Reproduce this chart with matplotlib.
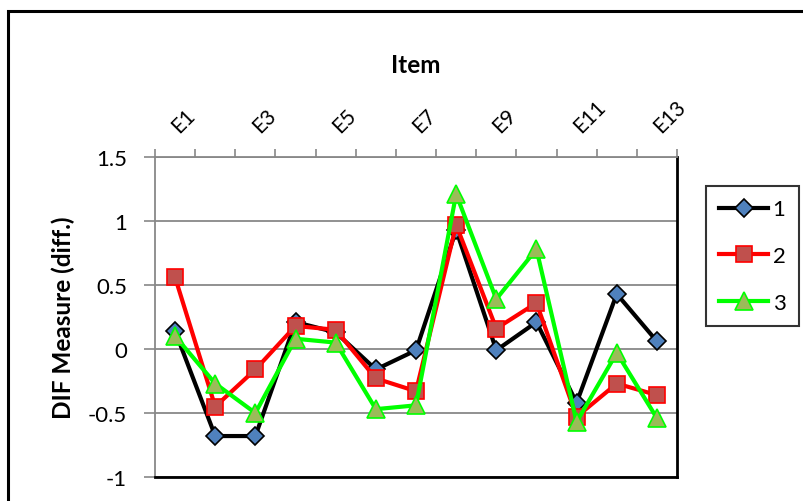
import matplotlib
matplotlib.use("Agg")
import matplotlib.pyplot as plt
from matplotlib.patches import Rectangle
from matplotlib.ticker import FuncFormatter
from matplotlib.transforms import ScaledTranslation
import numpy as np

plt.rcParams['font.family'] = ['Lato', 'DejaVu Sans']

items = ['E%d' % i for i in range(1, 14)]
group1 = [0.14, -0.68, -0.68, 0.21, 0.13, -0.16, -0.01, 0.93, -0.01, 0.21, -0.42, 0.43, 0.06]
group2 = [0.56, -0.45, -0.16, 0.18, 0.15, -0.23, -0.33, 0.97, 0.16, 0.36, -0.53, -0.27, -0.36]
group3 = [0.10, -0.27, -0.50, 0.08, 0.05, -0.47, -0.44, 1.21, 0.39, 0.78, -0.57, -0.03, -0.54]
series_names = ['1', '2', '3']
y_ticks = [-1, -0.5, 0, 0.5, 1, 1.5]

fig = plt.figure(figsize=(8.04, 5.02), dpi=100)
ax = fig.add_axes([155 / 804, 1 - 478 / 502, 522 / 804, 320 / 502])

x = np.arange(len(items))
ax.plot(x, group1, color='black', lw=3, marker='D', ms=9,
        mfc='#4F81BD', mec='black', mew=1.2, label=series_names[0], zorder=3)
ax.plot(x, group2, color='red', lw=3, marker='s', ms=12,
        mfc='#C0504D', mec='red', mew=1.2, label=series_names[1], zorder=4)
ax.plot(x, group3, color='#00FF00', lw=3, marker='^', ms=13,
        mfc='#9BBB59', mec='#00FF00', mew=1.2, label=series_names[2], zorder=5)

ax.set_xlim(-0.5, len(items) - 0.5)
ax.set_ylim(-1, 1.5)
ax.set_yticks(y_ticks)
ax.yaxis.set_major_formatter(FuncFormatter(lambda v, p: '%g' % v))
ax.grid(axis='y', color='#888888', lw=1.3)
ax.set_axisbelow(True)

# x axis on top: labels on every other item, ticks between items
ax.xaxis.tick_top()
ax.set_xticks(x[::2])
ax.set_xticklabels(items[::2], rotation=45, ha='left', va='center',
                   rotation_mode='anchor')
shift = ScaledTranslation(4 / 100, 0, fig.dpi_scale_trans)
for lab in ax.get_xticklabels():
    lab.set_transform(lab.get_transform() + shift)
ax.set_xticks(np.arange(-0.5, len(items)), minor=True)
ax.tick_params(axis='x', which='major', length=0, pad=20, labelsize=15)
ax.tick_params(axis='x', which='minor', length=6, color='#888888', width=1.2, top=True, bottom=False)
ax.tick_params(axis='y', length=8, color='#888888', width=1.2, labelsize=16, pad=12)

ax.xaxis.set_label_position('top')
ax.set_xlabel('Item', fontsize=17.5, fontweight='bold', labelpad=18)
ax.set_ylabel('DIF Measure (diff.)', fontsize=17.5, fontweight='bold', labelpad=9)

for s in ['top', 'left']:
    ax.spines[s].set_color('#888888')
    ax.spines[s].set_linewidth(1.3)
for s in ['right', 'bottom']:
    ax.spines[s].set_color('black')
    ax.spines[s].set_linewidth(2)

leg = fig.legend(loc='upper left', bbox_to_anchor=(706 / 804, 1 - 187 / 502),
                 fontsize=16, frameon=True, fancybox=False, edgecolor='black',
                 handlelength=2.2, handletextpad=0.2, labelspacing=1.2,
                 borderpad=0.6, borderaxespad=0)
leg.get_frame().set_linewidth(1.5)

# outer chart border (cut off at right and bottom)
fig.add_artist(Rectangle((8 / 804, -0.1), 1.2, 1 - 12 / 502 + 0.1,
                         transform=fig.transFigure, fill=False,
                         edgecolor='black', lw=2.2))

fig.savefig('out.png', dpi=100)
